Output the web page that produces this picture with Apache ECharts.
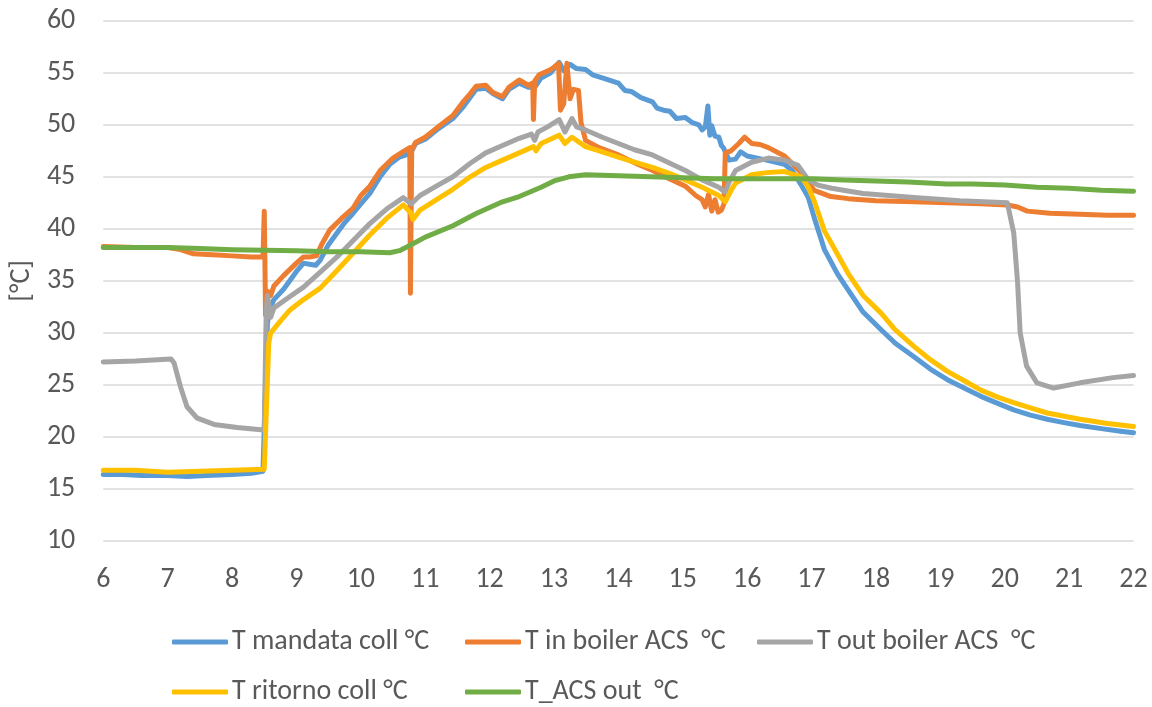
<!DOCTYPE html>
<html>
<head>
<meta charset="utf-8">
<script src="https://cdn.jsdelivr.net/npm/echarts@6/dist/echarts.min.js"></script>
<style>
  html, body { margin: 0; padding: 0; background: #fff; }
  #chart { width: 1152px; height: 707px; }
</style>
</head>
<body>
<div id="chart"></div>
<script>
// [ora, °C]
const tMandataColl = [
  [6, 16.4], [6.3, 16.4], [6.6, 16.3], [7, 16.3], [7.3, 16.2], [7.6, 16.3], [8, 16.4], [8.3, 16.5], [8.48, 16.7],
  [8.52, 25], [8.55, 31.0], [8.6, 32.5], [8.65, 33.2], [8.8, 34.2], [9.0, 35.9], [9.11, 36.7], [9.2, 36.6],
  [9.3, 36.5], [9.37, 37.0], [9.5, 38.5], [9.63, 39.6], [9.75, 40.6], [9.88, 41.5], [10.0, 42.4], [10.14, 43.4],
  [10.3, 45.0], [10.45, 46.2], [10.6, 46.9], [10.75, 47.2], [10.8, 47.6], [10.85, 48.2], [11.0, 48.6], [11.2, 49.6],
  [11.43, 50.6], [11.6, 51.8], [11.79, 53.4], [11.94, 53.5], [12.05, 53.0], [12.2, 52.5], [12.3, 53.4], [12.46, 54.0],
  [12.6, 53.6], [12.7, 53.6], [12.8, 54.5], [12.95, 55.0], [13.08, 56.0], [13.15, 55.2], [13.25, 55.8], [13.35, 55.4],
  [13.49, 55.3], [13.6, 54.8], [13.75, 54.5], [14.0, 54.0], [14.1, 53.3], [14.2, 53.2], [14.35, 52.6], [14.53, 52.2],
  [14.6, 51.6], [14.7, 51.4], [14.8, 51.3], [14.9, 50.6], [15.04, 50.7], [15.15, 50.2], [15.25, 50.0], [15.3, 49.5],
  [15.35, 49.8], [15.39, 51.8], [15.42, 49.0], [15.45, 49.9], [15.5, 48.9], [15.56, 48.8], [15.6, 48.0], [15.63, 47.8],
  [15.66, 47.4], [15.72, 46.6], [15.82, 46.7], [15.9, 47.4], [16.0, 47.0], [16.07, 46.9], [16.3, 46.6], [16.58, 46.2],
  [16.7, 45.6], [16.84, 44.2], [16.95, 43.0], [17.04, 41.1], [17.2, 38.0], [17.4, 35.7], [17.57, 34.1], [17.8, 32.0],
  [18.08, 30.3], [18.3, 29.0], [18.59, 27.7], [18.85, 26.5], [19.11, 25.5], [19.4, 24.6], [19.63, 23.9], [19.9, 23.2],
  [20.14, 22.6], [20.4, 22.1], [20.66, 21.7], [20.9, 21.4], [21.17, 21.1], [21.5, 20.8], [21.8, 20.55], [22, 20.4]
];

const tInBoiler = [
  [6, 38.3], [6.5, 38.2], [7, 38.2], [7.2, 38.0], [7.4, 37.6], [7.7, 37.5], [8, 37.4], [8.3, 37.3], [8.48, 37.3],
  [8.5, 41.7], [8.51, 37], [8.52, 31.7], [8.55, 34.0], [8.6, 33.6], [8.65, 34.5], [8.8, 35.5], [9.0, 36.7],
  [9.11, 37.3], [9.2, 37.3], [9.31, 37.4], [9.4, 38.6], [9.52, 39.9], [9.7, 41.0], [9.88, 42.0], [10.0, 43.2],
  [10.14, 44.1], [10.3, 45.6], [10.5, 46.8], [10.65, 47.4], [10.76, 47.8], [10.77, 33.8], [10.79, 47.6],
  [10.85, 48.3], [11.0, 48.8], [11.2, 49.8], [11.43, 50.9], [11.59, 52.2], [11.7, 53.0], [11.79, 53.7], [11.94, 53.8],
  [12.05, 53.1], [12.2, 52.7], [12.3, 53.6], [12.46, 54.3], [12.6, 53.8], [12.67, 54.0], [12.68, 50.5], [12.7, 54.2],
  [12.77, 54.8], [12.95, 55.3], [13.07, 55.9], [13.1, 51.4], [13.15, 52.0], [13.2, 55.9], [13.25, 52.5], [13.3, 53.4],
  [13.38, 53.3], [13.42, 50.2], [13.49, 48.5], [13.7, 47.8], [14.0, 47.1], [14.3, 46.2], [14.53, 45.6], [14.8, 44.8],
  [15.04, 44.1], [15.2, 43.2], [15.3, 42.8], [15.35, 42.1], [15.4, 43.3], [15.45, 41.7], [15.5, 42.8], [15.55, 41.6],
  [15.6, 41.8], [15.64, 42.4], [15.66, 47.3], [15.75, 47.5], [15.87, 48.2], [15.96, 48.8], [16.07, 48.2], [16.2, 48.1],
  [16.33, 47.8], [16.58, 47.0], [16.84, 45.4], [17.04, 43.7], [17.3, 43.1], [17.57, 42.9], [18.0, 42.7], [18.59, 42.6],
  [19.1, 42.5], [19.63, 42.4], [20.04, 42.3], [20.2, 42.1], [20.35, 41.7], [20.7, 41.5], [21.17, 41.4], [21.6, 41.3],
  [22, 41.3]
];

const tOutBoiler = [
  [6, 27.2], [6.5, 27.3], [7.05, 27.5], [7.1, 27.1], [7.2, 24.8], [7.3, 22.9], [7.46, 21.8], [7.72, 21.2],
  [8.08, 20.9], [8.45, 20.7], [8.5, 20.7], [8.53, 31.9], [8.55, 33.6], [8.6, 31.5], [8.65, 32.4], [8.9, 33.5],
  [9.11, 34.4], [9.4, 36.0], [9.63, 37.3], [9.9, 39.0], [10.14, 40.5], [10.4, 41.9], [10.66, 43.0], [10.78, 42.4],
  [10.92, 43.2], [11.2, 44.2], [11.43, 45.0], [11.7, 46.3], [11.94, 47.3], [12.2, 48.0], [12.46, 48.7], [12.65, 49.1],
  [12.7, 48.5], [12.75, 49.3], [12.9, 49.8], [13.08, 50.5], [13.17, 49.3], [13.28, 50.6], [13.35, 49.8], [13.49, 49.5],
  [13.75, 48.8], [14.0, 48.2], [14.25, 47.6], [14.53, 47.1], [14.8, 46.3], [15.04, 45.6], [15.3, 44.7], [15.56, 44.0],
  [15.66, 43.5], [15.72, 44.5], [15.82, 45.6], [16.07, 46.4], [16.33, 46.8], [16.58, 46.6], [16.79, 46.1], [16.95, 44.7],
  [17.1, 44.2], [17.31, 43.9], [17.8, 43.4], [18.59, 43.0], [19.3, 42.7], [20.04, 42.5], [20.14, 39.6], [20.2, 34.8],
  [20.24, 30.0], [20.34, 26.8], [20.5, 25.2], [20.76, 24.7], [21.17, 25.2], [21.68, 25.7], [22, 25.9]
];

const tRitornoColl = [
  [6, 16.8], [6.5, 16.8], [7, 16.6], [7.5, 16.7], [8, 16.8], [8.5, 16.9], [8.53, 17], [8.57, 29], [8.6, 30.0],
  [8.76, 31.2], [8.9, 32.2], [9.11, 33.2], [9.37, 34.3], [9.63, 36.0], [9.9, 37.8], [10.14, 39.4], [10.4, 41.0],
  [10.66, 42.3], [10.78, 41.5], [10.81, 40.9], [10.92, 41.8], [11.2, 42.9], [11.43, 43.8], [11.7, 45.0], [11.94, 45.9],
  [12.2, 46.6], [12.46, 47.3], [12.68, 47.9], [12.72, 47.5], [12.8, 48.2], [13.08, 49.0], [13.17, 48.2], [13.28, 48.8],
  [13.49, 47.9], [13.75, 47.4], [14.0, 46.9], [14.25, 46.4], [14.53, 45.9], [14.8, 45.3], [15.04, 44.7], [15.3, 44.0],
  [15.56, 43.2], [15.66, 42.6], [15.75, 43.7], [15.82, 44.4], [16.07, 45.2], [16.3, 45.4], [16.58, 45.5], [16.84, 45.0],
  [16.95, 44.0], [17.04, 42.7], [17.2, 39.8], [17.57, 35.7], [17.8, 33.6], [18.08, 31.9], [18.3, 30.3], [18.59, 28.7],
  [18.85, 27.4], [19.11, 26.3], [19.4, 25.3], [19.63, 24.5], [19.9, 23.8], [20.14, 23.3], [20.4, 22.8], [20.66, 22.3],
  [21.17, 21.7], [21.6, 21.3], [22, 21.0]
];

const tAcsOut = [
  [6, 38.2], [6.5, 38.2], [7, 38.2], [7.5, 38.1], [8, 38.0], [8.5, 37.95], [9, 37.9], [9.5, 37.8], [10, 37.8],
  [10.45, 37.7], [10.6, 37.9], [10.76, 38.4], [11, 39.2], [11.43, 40.3], [11.8, 41.5], [12.2, 42.6], [12.46, 43.1],
  [12.8, 44.0], [13.0, 44.6], [13.23, 45.0], [13.49, 45.2], [14, 45.1], [14.5, 45.0], [15, 44.9], [15.5, 44.8],
  [16, 44.8], [16.5, 44.8], [17, 44.8], [17.5, 44.7], [18, 44.6], [18.5, 44.5], [19.1, 44.3], [19.5, 44.3],
  [20, 44.2], [20.5, 44.0], [21, 43.9], [21.5, 43.7], [22, 43.6]
];

const seriesNames = ['T mandata coll °C', 'T in boiler ACS  °C', 'T out boiler ACS  °C', 'T ritorno coll °C', 'T_ACS out  °C'];
const seriesColors = ['#5B9BD5', '#ED7D31', '#A5A5A5', '#FFC000', '#70AD47'];
const seriesData = [tMandataColl, tInBoiler, tOutBoiler, tRitornoColl, tAcsOut];

const font = "Carlito, 'Liberation Sans Narrow', 'Liberation Sans', sans-serif";
const textColor = '#595959';

// legend placement: two rows, three slots
const legendSlots = [
  { left: 172, top: 627 }, { left: 465, top: 627 }, { left: 757, top: 627 },
  { left: 172, top: 677 }, { left: 465, top: 677 }
];

const chart = echarts.init(document.getElementById('chart'));

const option = {
  animation: false,
  textStyle: { fontFamily: font },
  grid: { left: 98.7, right: 18.5, top: 20.7, bottom: 166, containLabel: false },
  legend: seriesNames.map((name, i) => ({
    data: [name],
    left: legendSlots[i].left,
    top: legendSlots[i].top,
    icon: 'roundRect',
    itemWidth: 56,
    itemHeight: 5,
    padding: 0,
    textStyle: { color: textColor, fontSize: 28, fontFamily: font, lineHeight: 30, padding: [0, 0, 0, -1] }
  })),
  xAxis: {
    type: 'value',
    min: 6,
    max: 22,
    interval: 1,
    axisLine: { show: false },
    axisTick: { show: false },
    splitLine: { show: false },
    axisLabel: { color: textColor, fontSize: 28, fontFamily: font, margin: 25 }
  },
  yAxis: {
    type: 'value',
    min: 10,
    max: 60,
    interval: 5,
    name: '[°C]',
    nameLocation: 'middle',
    nameRotate: 90,
    nameGap: 63,
    nameTextStyle: { color: textColor, fontSize: 28, fontFamily: font },
    axisLine: { show: false },
    axisTick: { show: false },
    splitLine: { lineStyle: { color: '#D9D9D9', width: 1.5 } },
    axisLabel: { color: textColor, fontSize: 28, fontFamily: font, margin: 28 }
  },
  series: seriesNames.map((name, i) => ({
    name: name,
    type: 'line',
    data: seriesData[i],
    showSymbol: false,
    symbol: 'none',
    color: seriesColors[i],
    lineStyle: { width: 5, color: seriesColors[i], join: 'round', cap: 'round' }
  }))
};

chart.setOption(option);
</script>
</body>
</html>
